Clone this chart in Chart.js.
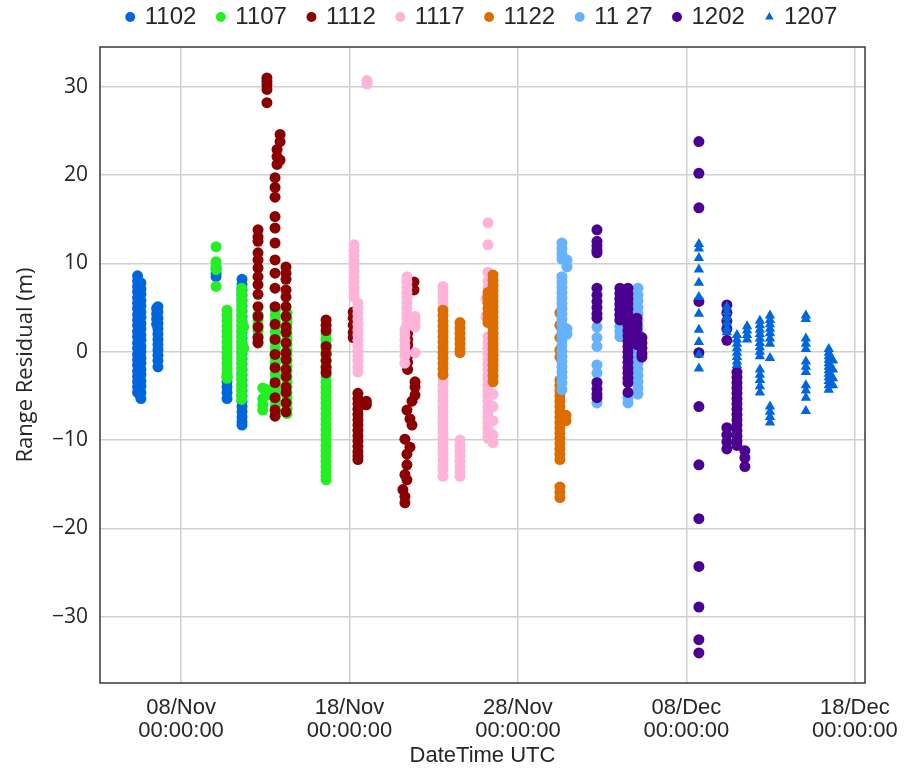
<!DOCTYPE html>
<html>
<head>
<meta charset="utf-8">
<script src="https://cdn.jsdelivr.net/npm/chart.js@4.4.1/dist/chart.umd.min.js"></script>
<style>
  html, body { margin: 0; padding: 0; background: #ffffff; }
  #wrap { width: 905px; height: 771px; }
</style>
</head>
<body>
<div id="wrap"><canvas id="chart" width="905" height="771"></canvas></div>
<script>
// Days are counted from 01/Nov 00:00 UTC (day 7 = 08/Nov 00:00:00).
const xTickDays = [7, 17, 27, 37, 47];
const xTickLabels = [['08/Nov', '00:00:00'], ['18/Nov', '00:00:00'], ['28/Nov', '00:00:00'], ['08/Dec', '00:00:00'], ['18/Dec', '00:00:00']];
const yTicks = [-30, -20, -10, 0, 10, 20, 30];

const seriesNames = ['1102', '1107', '1112', '1117', '1122', '11 27', '1202', '1207'];
const seriesColors = ['#0066dd', '#22f022', '#8b0000', '#ffb3d9', '#dd6d00', '#66b2ff', '#4b0092', '#0066dd'];
const seriesMarkers = ['circle', 'circle', 'circle', 'circle', 'circle', 'circle', 'circle', 'triangle'];

// Each pass: [day, [range residuals in metres]]
const pass1102 = [
  [4.42, [8.6, 8.0, 7.4, 6.8, 6.1, 5.5, 4.9, 4.2, 3.6, 3.0, 2.3, 1.7, 1.0, 0.4, -0.3, -0.9, -1.5, -2.2, -2.8, -3.4, -4.0, -4.6]],
  [4.52, [7.5, 5.0, 2.0, -1.0, -3.6, -4.8]],
  [4.62, [7.8, 7.1, 6.5, 5.8, 5.2, 4.5, 3.9, 3.2, 2.6, 1.9, 1.3, 0.6, 0.0, -0.7, -1.3, -2.0, -2.6, -3.3, -3.9, -4.6, -5.3]],
  [5.55, [4.9, 4.3, 3.7, 3.1]],
  [5.63, [5.1, 4.5, 3.8, 3.2, 2.6, 2.0, 1.4, 0.8, 0.2, -0.4, -1.0, -1.7]],
  [9.08, [9.4, 8.9, 8.5]],
  [9.73, [-2.8, -3.4, -4.0, -4.6, -5.3]],
  [10.62, [8.2, 7.6, 7.0, 6.4, 5.8, 5.2, 4.6, 4.0, 3.4, 2.8, 2.2, 1.6, 1.0, 0.4, -0.2, -0.8, -1.4, -2.0, -2.6, -3.2, -3.8, -4.4, -5.0, -5.6, -6.2, -6.8, -7.4, -7.9, -8.3]]
];
const pass1107 = [
  [9.08, [11.9, 10.2, 9.7, 9.3, 7.4]],
  [9.73, [4.7, 4.1, 3.5, 2.9, 2.3, 1.7, 1.1, 0.5, -0.1, -0.7, -1.3, -1.9, -2.5, -3.0]],
  [10.6, [7.2, 6.6, 6.0, 5.4, 4.8, 4.2, 3.6, 3.0, 2.4, 1.8, 1.2, 0.6, 0.0, -0.6, -1.2, -1.8, -2.4, -3.0, -3.6, -4.2, -4.8, -5.4]],
  [10.72, [2.8, 0.4]],
  [11.57, [4.2, 3.6, 3.0, 2.4, 1.8, 1.2]],
  [11.85, [-4.1, -5.3, -6.0, -6.6]],
  [12.1, [-4.3, -4.9]],
  [12.6, [4.7, 4.1, 3.5, 2.9, 2.3, 1.7, 1.1, 0.5, -0.1, -0.7, -1.3, -1.9, -2.5, -3.1, -3.7, -4.3, -4.9, -5.5, -6.1, -6.7, -7.1]],
  [13.29, [4.4, 3.8, 3.2, 2.6, 2.0, 1.4, 0.8, 0.2, -0.4, -1.0, -1.6, -2.2, -2.8, -3.4, -4.0, -4.6, -5.2, -5.8, -6.4, -7.0]],
  [15.61, [2.0, 1.4, 0.8, 0.2, -0.4, -1.0, -1.6, -2.2, -2.8, -3.4, -4.0, -4.6, -5.2, -5.8, -6.4, -7.0, -7.6, -8.2, -8.8, -9.4, -10.0, -10.6, -11.2, -11.8, -12.4, -13.0, -13.6, -14.1, -14.5]]
];
const pass1112 = [
  [11.57, [13.8, 13.0, 12.5, 11.2, 10.4, 9.5, 8.5, 7.6, 6.5, 5.1, 4.0, 2.8, 1.6, 1.0]],
  [12.1, [31.0, 30.6, 30.2, 29.7, 28.2]],
  [12.88, [24.6, 23.8, 21.7]],
  [12.7, [22.9, 22.1, 21.2]],
  [12.58, [19.7, 18.6, 17.5, 15.3, 14.0, 12.3, 10.4, 8.9, 7.2, 5.1, 3.1, 1.4, -0.3, -1.8, -3.5, -5.2, -6.6, -7.3]],
  [13.23, [9.6, 8.9, 8.2, 7.0, 6.2, 5.1, 4.0, 2.8, 2.2, 1.0, -0.1, -0.9, -2.0, -2.8, -4.0, -4.6, -5.8, -6.8]],
  [15.61, [3.6, 3.0, 2.4, 0.6, -0.2, -1.0, -1.8, -2.4]],
  [17.22, [4.5, 3.8, 3.0, 2.2, 1.6]],
  [17.5, [-4.7, -5.3, -5.9, -6.5, -7.1, -7.7, -8.3, -8.9, -9.5, -10.1, -10.7, -11.3, -11.8, -12.2]],
  [18.0, [-5.6, -6.0]],
  [20.83, [7.9, 7.0]],
  [20.45, [2.1, 1.4, 0.8, 0.2, -0.5, -1.2, -2.0]],
  [20.89, [-3.4, -4.0, -4.9]],
  [20.71, [-5.6, -8.3]],
  [20.41, [-6.6, -11.6, -12.8, -14.5]],
  [20.59, [-7.6, -10.8]],
  [20.29, [-9.9, -13.9, -16.4, -17.1]],
  [20.17, [-15.6]]
];
const pass1117 = [
  [18.04, [30.7, 30.3]],
  [17.27, [12.1, 11.5, 10.9, 10.3, 9.7, 9.1, 8.5, 7.9, 7.3, 6.7, 6.2]],
  [17.5, [5.5, 4.9, 4.3, 3.7, 3.1, 2.5, 1.9, 1.3, 0.7, 0.1, -0.5, -1.1, -1.7, -2.3]],
  [20.41, [8.5, 7.9, 7.3, 6.7, 6.1, 5.5, 4.9, 4.3, 3.7, 3.1]],
  [20.29, [2.5, 1.9, 1.3, 0.7, 0.1, -0.5, -1.3]],
  [20.89, [4.0, 3.4, 2.8, -0.1]],
  [22.55, [7.4, 6.8, 6.2, 5.6, 5.0, -2.6, -3.2, -3.8, -4.4, -5.0, -5.6, -6.2, -6.8, -7.4, -8.0, -8.6, -9.2, -9.8, -10.4, -11.0, -11.6, -12.2, -12.8, -13.4, -14.1]],
  [23.56, [-10.0, -10.6, -11.2, -11.8, -12.4, -13.0, -13.6, -14.1]],
  [25.22, [14.6, 12.1, 9.0, 8.0, 7.2, 1.7, 1.0, 0.4, -0.2, -0.8, -1.4, -2.0, -2.6, -3.2, -3.8, -4.4, -5.0, -5.6, -6.2, -6.8, -7.4, -8.0, -8.6, -9.2, -9.8]],
  [25.52, [2.0, 0.6, -0.5, -1.6, -3.0, -4.8, -6.2, -7.8, -9.4, -10.3]],
  [25.1, [6.0, 4.0]]
];
const pass1122 = [
  [22.55, [4.7, 4.1, 3.5, 2.9, 2.3, 1.7, 1.1, 0.5, -0.1, -0.7, -1.3, -1.9, -2.6]],
  [23.56, [3.3, 2.7, 2.1, 1.5, 0.9, 0.3, -0.1]],
  [25.22, [6.7, 6.1, 5.5, 4.9, 4.3, 3.7, 3.3]],
  [25.52, [8.7, 8.1, 7.5, 6.9, 6.3, 5.7, 5.1, 4.5, 3.9, 3.3, 2.7, 2.1, 1.5, 0.9, 0.3, -0.3, -0.9, -1.5, -2.1, -2.7, -3.4]],
  [29.49, [4.4, 3.0, 1.6, 0.2, -0.6, -3.2, -3.8, -4.4, -5.0, -5.6, -6.2, -6.8, -7.4, -8.0, -8.6, -9.2, -9.8, -10.4, -11.0, -11.6, -12.2, -15.3, -15.9, -16.5]],
  [29.85, [-7.2, -7.8]]
];
const pass1127 = [
  [29.61, [12.3, 11.7, 11.1, 10.5, 8.5, 7.9, 7.3, 6.7, 6.1, 5.5, 4.9, 4.3, 3.7, 3.1, 2.5, 1.9, 1.3, 0.7, 0.1, -0.5, -1.1, -1.7, -2.3, -2.9, -3.5, -4.3]],
  [29.91, [10.4, 9.6, 2.6, 2.0]],
  [31.69, [2.8, 1.6, 0.6, -1.5, -2.4, -3.4, -5.8]],
  [33.05, [5.9, 5.3, 4.7, 4.1, 3.5, 2.9, 2.3, 1.7]],
  [33.53, [-5.2, -5.8]],
  [34.12, [7.2, 6.4, 5.8, 5.0, 4.3, 3.6, 2.9, 2.2, 1.5, 0.8, 0.1, -0.6, -1.3, -2.0, -2.7, -3.4, -4.1, -4.8]]
];
const pass1202 = [
  [31.69, [13.8, 12.5, 12.0, 11.5, 11.2, 7.2, 6.4, 5.7, 5.0, 4.3, 3.8, -3.5, -4.2, -4.8, -5.2]],
  [33.05, [7.2, 6.6, 6.0, 5.4, 4.8, 4.2, 3.6]],
  [33.53, [7.2, 6.6, 6.0, 5.4, 4.8, 4.2, 3.6, 3.0, 2.4, 1.8, 1.2, 0.6, 0.0, -0.6, -1.2, -1.8, -2.4, -3.0, -3.5, -4.6]],
  [34.06, [3.8, 3.2, 2.6, 2.0, 1.4, 0.8]],
  [34.36, [1.6, 1.0, 0.4, -0.2, -0.6]],
  [37.74, [23.8, 20.2, 16.3, 5.7, -0.1, -6.2, -12.8, -18.9, -24.3, -28.9, -32.6, -34.1]],
  [39.4, [5.3, 4.4, 3.5, 2.6, 1.3, -8.6, -9.4, -10.2, -11.0]],
  [40.0, [-2.3, -2.9, -3.5, -4.1, -4.7, -5.3, -5.9, -6.5, -7.1, -7.7, -8.3, -8.9, -9.5, -10.1, -10.6]],
  [40.47, [-11.2, -12.0, -13.0]]
];
const pass1207 = [
  [37.74, [12.2, 11.7, 10.6, 9.3, 7.8, 6.2, 4.3, 2.5, 1.1, -0.3, -1.9]],
  [39.4, [5.1, 4.5, 3.9, 3.3, 2.7, 2.2]],
  [40.0, [1.9, 1.4, 0.9, 0.4, -0.1, -0.6, -1.1, -1.5]],
  [40.6, [2.9, 2.4, 1.9, 1.4]],
  [41.36, [3.5, 3.0, 2.5, 2.0, 1.5, 1.0, 0.5, 0.0, -0.5, -2.0, -2.6, -3.2, -3.9, -4.6]],
  [41.96, [4.1, 3.6, 3.1, 2.6, 2.1, 1.5, 0.9, -0.7, -6.2, -6.8, -7.4, -8.0]],
  [44.09, [4.1, 3.7, 1.5, 0.9, 0.3, -1.1, -1.7, -2.3, -3.8, -4.4, -5.2, -6.7]],
  [45.45, [0.3, -0.1, -0.5, -0.9, -1.3, -1.7, -2.1, -2.5, -2.9, -3.3, -3.8, -4.3]],
  [45.7, [-1.0, -2.0, -3.0, -3.8]]
];

const seriesPasses = [pass1102, pass1107, pass1112, pass1117, pass1122, pass1127, pass1202, pass1207];

function toPoints(passes) {
  const pts = [];
  passes.forEach(([day, residuals]) => residuals.forEach(r => pts.push({ x: day, y: r })));
  return pts;
}

const datasets = seriesNames.map((name, i) => ({
  label: name,
  data: toPoints(seriesPasses[i]),
  backgroundColor: seriesColors[i],
  borderColor: seriesColors[i],
  borderWidth: 0,
  pointStyle: seriesMarkers[i],
  pointRadius: seriesMarkers[i] === 'triangle' ? 6 : 5.5,
  pointHoverRadius: 5,
  // later passes are drawn over earlier ones
  order: seriesNames.length - i
}));

// Full box around the plotting area; the legend keeps a single row and a gap below it
const frame = {
  id: 'frame',
  beforeLayout(chart) {
    const lg = chart.legend;
    if (lg && !lg._oneRow) {
      const fit = lg.fit.bind(lg);
      lg.fit = function () {
        this.maxWidth = Math.max(this.maxWidth, 900);
        fit();
        this.height += 8;
      };
      lg._oneRow = true;
    }
  },
  afterDraw(chart) {
    const { ctx, chartArea: a } = chart;
    ctx.save();
    ctx.strokeStyle = '#3a3a3a';
    ctx.lineWidth = 1.5;
    ctx.strokeRect(a.left, a.top, a.right - a.left, a.bottom - a.top);
    ctx.restore();
  }
};

const textColor = '#262626';

new Chart(document.getElementById('chart'), {
  type: 'scatter',
  data: { datasets },
  plugins: [frame],
  options: {
    responsive: false,
    animation: false,
    layout: { padding: { top: -17, left: 0, right: 40, bottom: 0 } },
    plugins: {
      tooltip: { enabled: false },
      legend: {
        position: 'top',
        fullSize: false,
        labels: {
          usePointStyle: true,
          boxWidth: 5,
          boxHeight: 7,
          padding: 22,
          color: textColor,
          font: { family: '"Liberation Sans", Arial, sans-serif', size: 24 },
          sort: (a, b) => a.datasetIndex - b.datasetIndex
        }
      }
    },
    scales: {
      x: {
        type: 'linear',
        min: 2.19,
        max: 47.6,
        afterFit(scale) { scale.height = 88; scale.paddingLeft = 0; scale.paddingRight = 0; },
        afterBuildTicks(scale) { scale.ticks = xTickDays.map(v => ({ value: v })); },
        grid: { color: '#d0d0d0', lineWidth: 1.5, drawTicks: false },
        border: { display: false },
        ticks: {
          padding: 13,
          maxRotation: 0,
          color: textColor,
          font: { family: '"Liberation Sans", Arial, sans-serif', size: 22, lineHeight: 1.05 },
          callback: (v) => xTickLabels[xTickDays.indexOf(v)]
        },
        title: {
          display: true,
          text: 'DateTime UTC',
          color: textColor,
          font: { family: '"Liberation Sans", Arial, sans-serif', size: 22 },
          padding: { top: 0, bottom: 2 }
        }
      },
      y: {
        type: 'linear',
        min: -37.5,
        max: 34.5,
        afterFit(scale) { scale.width = 100; },
        afterBuildTicks(scale) { scale.ticks = yTicks.map(v => ({ value: v })); },
        grid: { color: '#d0d0d0', lineWidth: 1.5, drawTicks: false },
        border: { display: false },
        ticks: {
          padding: 12,
          color: textColor,
          font: { family: '"Open Sans", sans-serif', size: 21 },
          callback: (v) => (v < 0 ? '\u2212' + Math.abs(v) : String(v))
        },
        title: {
          display: true,
          text: 'Range Residual (m)',
          color: textColor,
          font: { family: '"Open Sans", sans-serif', size: 22 },
          padding: { top: 13, bottom: 0 }
        }
      }
    }
  }
});
</script>
</body>
</html>
